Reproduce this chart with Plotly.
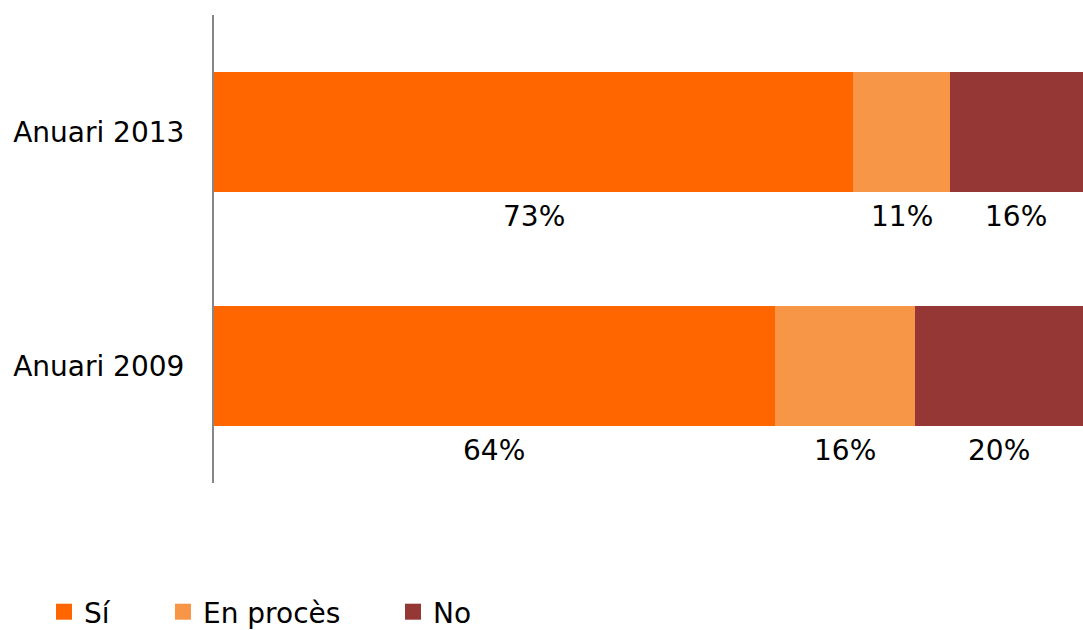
import plotly.graph_objects as go

categories = ["Anuari 2009", "Anuari 2013"]
series_names = ["Sí", "En procès", "No"]
si_values = [64, 73]
en_proces_values = [16, 11]
no_values = [20, 16]
label_texts = {"Sí": ["64%", "73%"], "En procès": ["16%", "11%"], "No": ["20%", "16%"]}

colors = {"Sí": "#FF6600", "En procès": "#F79646", "No": "#953735"}
font_family = "DejaVu Sans, Verdana, sans-serif"
W, H = 1083, 630
x_max = 99.2

values = {"Sí": si_values, "En procès": en_proces_values, "No": no_values}
legend_ids = {"Sí": "legend", "En procès": "legend2", "No": "legend3"}
legend_left_px = {"Sí": 44, "En procès": 163, "No": 393}

fig = go.Figure()
for name in series_names:
    fig.add_trace(go.Bar(
        y=categories, x=values[name], name=name, orientation="h",
        marker=dict(color=colors[name], line=dict(width=0)),
        legend=legend_ids[name], hoverinfo="skip", showlegend=False,
    ))
# legend entries (square swatches)
for name in series_names:
    fig.add_trace(go.Scatter(
        x=[None], y=[None], mode="markers", name=name,
        marker=dict(symbol="square", size=19, color=colors[name]),
        legend=legend_ids[name], hoverinfo="skip", showlegend=True,
    ))

# Labels below each segment, centred on the visible part of the segment
annotations = []
for i, cat in enumerate(categories):
    start = 0
    for name in series_names:
        v = values[name][i]
        end = start + v
        cx = (start + min(end, x_max)) / 2
        annotations.append(dict(
            x=cx, y=cat, xref="x", yref="y", text=label_texts[name][i],
            showarrow=False, yshift=-84, xanchor="center", yanchor="middle",
            font=dict(family=font_family, size=28, color="#000000"),
        ))
        start = end

layout_legends = {}
for name in series_names:
    layout_legends[legend_ids[name]] = dict(
        xref="container", yref="container",
        x=legend_left_px[name] / W, y=1 - 612 / H,
        xanchor="left", yanchor="middle",
        orientation="h", itemwidth=30,
        font=dict(family=font_family, size=28, color="#000000"),
        bgcolor="rgba(0,0,0,0)",
    )

fig.update_layout(
    width=W, height=H,
    margin=dict(l=214, r=0, t=15, b=147),
    barmode="stack", bargap=0.49,
    plot_bgcolor="white", paper_bgcolor="white",
    font=dict(family=font_family, size=28, color="#000000"),
    xaxis=dict(range=[0, x_max], showgrid=False, showticklabels=False,
               zeroline=False, showline=False, ticks=""),
    yaxis=dict(categoryorder="array", categoryarray=categories,
               range=[-0.5, 1.5], showgrid=False, zeroline=False,
               showline=True, linecolor="#868686", linewidth=2,
               ticks="", ticklabelstandoff=22,
               tickfont=dict(family=font_family, size=28, color="#000000")),
    annotations=annotations,
    **layout_legends,
)

fig.write_html("out.html",
               config={"displayModeBar": False},
               post_script="document.body.style.margin='0';document.body.style.overflow='hidden';")
